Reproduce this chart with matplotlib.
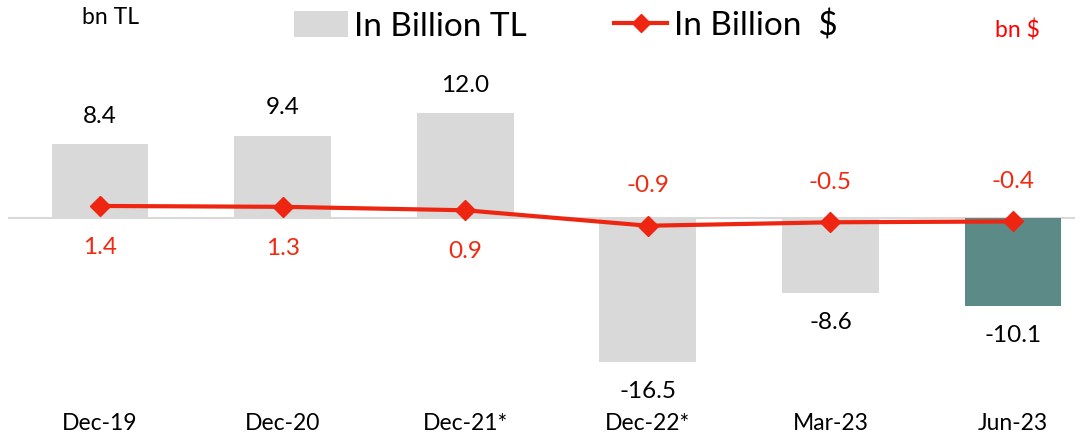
import matplotlib
matplotlib.use("Agg")
import matplotlib.pyplot as plt
from matplotlib.patches import Patch
from matplotlib.lines import Line2D
import numpy as np

categories = ["Dec-19", "Dec-20", "Dec-21*", "Dec-22*", "Mar-23", "Jun-23"]
tl_values = [8.4, 9.4, 12.0, -16.5, -8.6, -10.1]
usd_values = [1.4, 1.3, 0.9, -0.9, -0.5, -0.4]
tl_labels = ["8.4", "9.4", "12.0", "-16.5", "-8.6", "-10.1"]
usd_labels = ["1.4", "1.3", "0.9", "-0.9", "-0.5", "-0.4"]

plt.rcParams['font.family'] = ['Lato', 'DejaVu Sans']

GRAY = "#d9d9d9"
TEAL = "#5b8a87"
RED = "#ee2510"
LABEL_RED = "#f02a10"

W, H = 1092, 440
fig = plt.figure(figsize=(W/100, H/100), dpi=100)
ax_left, ax_right_px = 8, 1075
ax_top, ax_bot = 40, 400
ax = fig.add_axes([ax_left/W, 1-ax_bot/H, (ax_right_px-ax_left)/W, (ax_bot-ax_top)/H])

x = np.arange(len(categories))
spacing = 182.6
xl0 = (ax_left-100)/spacing
xl1 = (ax_right_px-100)/spacing
ax.set_xlim(xl0, xl1)
scale = 8.75
ax.set_ylim(-(ax_bot-218)/scale, (218-ax_top)/scale)

colors = [GRAY]*5 + [TEAL]
ax.bar(x, tl_values, width=0.53, color=colors, zorder=2)
ax.axhline(0, color=GRAY, lw=1.5, zorder=1)

for xi, v, lab in zip(x, tl_values, tl_labels):
    off = 20 if v >= 0 else -21
    ax.annotate(lab, (xi, v), xytext=(0, off), textcoords='offset points',
                ha='center', va='center', fontsize=17.5, color='black')

ax2 = ax.twinx()
ax2.set_ylim(-(ax_bot-218)/8.6, (218-ax_top)/8.6)
ax2.plot(x, usd_values, color=RED, lw=3, marker='D', markersize=10, zorder=3)
for xi, v, lab in zip(x, usd_values, usd_labels):
    off = -30 if v >= 0 else 29
    ax2.annotate(lab, (xi, v), xytext=(0, off), textcoords='offset points',
                 ha='center', va='center', fontsize=17.5, color=LABEL_RED)

for a in (ax, ax2):
    for s in a.spines.values():
        s.set_visible(False)
    a.set_yticks([])
ax.set_xticks(x)
ax.set_xticklabels(categories, fontsize=16.5)
ax.tick_params(axis='x', length=0, pad=9)

fig.text(110/W, 1-18/H, "bn TL", ha='center', va='center', fontsize=16.5)
fig.text(1017/W, 1-30/H, "bn $", ha='center', va='center', fontsize=16.5, color='#ff0000')

handles = [Patch(facecolor=GRAY, edgecolor='none'),
           Line2D([0], [0], color=RED, lw=3, marker='D', markersize=9)]
fig.legend(handles, ["In Billion TL", "In Billion  $"], loc='center',
           bbox_to_anchor=(566/W, 1-26/H), ncol=2, frameon=False, fontsize=24,
           handlelength=1.6, handleheight=0.8, handletextpad=0.2, columnspacing=2.6)

fig.savefig("out.png", dpi=100)
